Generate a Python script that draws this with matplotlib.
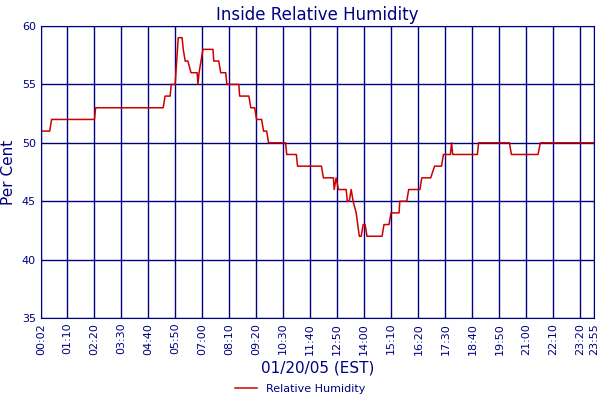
import matplotlib
matplotlib.use("Agg")
import matplotlib.pyplot as plt
from matplotlib.lines import Line2D

times = ["00:02","00:25","00:30","02:21","02:24","05:19","05:24","05:37","05:40","05:50","05:58","06:08",
         "06:11","06:16","06:23","06:31","06:47","06:49","06:52","06:57","07:02","07:28","07:30","07:43",
         "07:48","08:01","08:04","08:35","08:37","09:01","09:06","09:16","09:21","09:34","09:39","09:47",
         "09:52","10:36","10:39","11:04","11:07","12:09","12:14","12:40","12:42","12:47","12:53","13:13",
         "13:16","13:21","13:26","13:31","13:39","13:47","13:52","13:57","14:02","14:07","14:46","14:51",
         "15:04","15:09","15:30","15:32","15:50","15:55","16:24","16:29","16:52","17:02","17:20","17:25",
         "17:43","17:46","17:49","17:51","18:53","18:56","20:16","20:21","21:30","21:36","23:55"]
values = [51,51,52,52,53,53,54,54,55,55,59,59,
          58,57,57,56,56,55,56,57,58,58,57,57,
          56,56,55,55,54,54,53,53,52,52,51,51,
          50,50,49,49,48,48,47,47,46,47,46,46,
          45,45,46,45,44,42,42,43,43,42,42,43,
          43,44,44,45,45,46,46,47,47,48,48,49,
          49,50,49,49,49,50,50,49,49,50,50]
tick_labels = ["00:02","01:10","02:20","03:30","04:40","05:50","07:00","08:10","09:20","10:30","11:40",
               "12:50","14:00","15:10","16:20","17:30","18:40","19:50","21:00","22:10","23:20","23:55"]

def tomin(s):
    h, m = s.split(":")
    return int(h) * 60 + int(m)

navy = "#000080"
fig = plt.figure(figsize=(6, 4), dpi=100)
ax = fig.add_axes([0.068, 0.205, 0.922, 0.730])
ax.plot([tomin(t) for t in times], values, color="#cc0000", lw=1.1)
ticks = [tomin(t) for t in tick_labels]
ax.set_xticks(ticks)
ax.set_xticklabels(tick_labels, rotation=90, fontsize=8, color=navy)
ax.set_xlim(2, 1435)
ax.set_ylim(35, 60)
ax.set_yticks([35, 40, 45, 50, 55, 60])
ax.tick_params(axis="y", labelsize=8, colors=navy, length=0)
ax.tick_params(axis="x", length=0, colors=navy)
ax.grid(True, color=navy, lw=1)
for s in ax.spines.values():
    s.set_color(navy)
ax.set_ylabel("Per Cent", color=navy, fontsize=11)
ax.set_xlabel("01/20/05 (EST)", color=navy, fontsize=11, labelpad=4)
ax.set_title("Inside Relative Humidity", color=navy, fontsize=12, pad=4)
fig.legend([Line2D([0], [0], color="#cc0000", lw=1.1)], ["Relative Humidity"], loc="lower center",
           bbox_to_anchor=(0.5, -0.01), frameon=False, fontsize=8, labelcolor=navy)
fig.savefig("out.png", dpi=100)
